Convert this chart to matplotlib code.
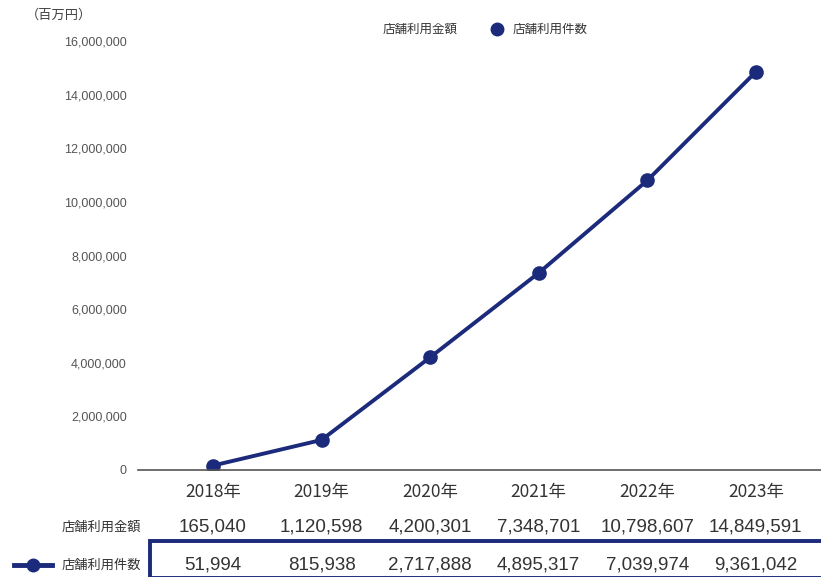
import matplotlib
matplotlib.use("Agg")
import matplotlib.pyplot as plt
from matplotlib.lines import Line2D
from matplotlib.patches import Rectangle
from matplotlib.transforms import blended_transform_factory

plt.rcParams["font.family"] = ["Noto Sans CJK JP", "DejaVu Sans"]

years = ["2018年", "2019年", "2020年", "2021年", "2022年", "2023年"]
amount = [165040, 1120598, 4200301, 7348701, 10798607, 14849591]  # 店舗利用金額（百万円）
count = [51994, 815938, 2717888, 4895317, 7039974, 9361042]  # 店舗利用件数
y_ticks = [0, 2000000, 4000000, 6000000, 8000000, 10000000, 12000000, 14000000, 16000000]

NAVY = "#1b2a7a"
W, H = 821, 577

fig = plt.figure(figsize=(W / 100, H / 100), dpi=100)
# axes box in pixel terms: left 138, right 821, bottom 470, top 41
ax = fig.add_axes([138 / W, 1 - 470 / H, (W - 138) / W, (470 - 41) / H])

x = list(range(len(years)))
ax.plot(x, amount, color=NAVY, lw=2.8, marker="o", ms=9.5,
        markerfacecolor=NAVY, markeredgecolor=NAVY, solid_capstyle="round")

ax.set_xlim(-0.69, 5.6)
ax.set_ylim(0, 16000000)
ax.set_yticks(y_ticks)
ax.set_yticklabels([f"{v:,}" for v in y_ticks], fontsize=9, color="#555555",
                   family=["Liberation Sans"])
ax.tick_params(axis="y", length=0, pad=8)
ax.set_xticks(x)
ax.set_xticklabels(years, fontsize=12.5, color="#333333")
ax.tick_params(axis="x", length=0, pad=9)
for s in ["top", "right", "left"]:
    ax.spines[s].set_visible(False)
ax.spines["bottom"].set_color("#555555")
ax.spines["bottom"].set_linewidth(1.2)

# 単位
fig.text(26 / W, 1 - 15 / H, "（百万円）", fontsize=9.5, color="#444444",
         ha="left", va="center")

# 凡例
fig.text(383 / W, 1 - 29 / H, "店舗利用金額", fontsize=9, color="#333333",
         ha="left", va="center")
fig.add_artist(Line2D([497 / W], [1 - 29 / H], marker="o", ms=9, color=NAVY,
                      transform=fig.transFigure))
fig.text(513 / W, 1 - 29 / H, "店舗利用件数", fontsize=9, color="#333333",
         ha="left", va="center")

# データテーブル
tr = blended_transform_factory(ax.transData, fig.transFigure)
row1_y = 1 - 527 / H
row2_y = 1 - 565 / H
fig.text(141 / W, row1_y, "店舗利用金額", fontsize=9.5, color="#333333",
         ha="right", va="center")
fig.text(141 / W, row2_y, "店舗利用件数", fontsize=9.5, color="#333333",
         ha="right", va="center")
for i in x:
    fig.text(i, row1_y, f"{amount[i]:,}", transform=tr, fontsize=13.5,
             color="#333333", ha="center", va="center", family=["Liberation Sans"])
    fig.text(i, row2_y, f"{count[i]:,}", transform=tr, fontsize=13.5,
             color="#333333", ha="center", va="center", family=["Liberation Sans"])

# 凡例キー（表の左）
fig.add_artist(Line2D([14 / W, 52 / W], [row2_y, row2_y], color=NAVY, lw=3.5,
                      transform=fig.transFigure))
fig.add_artist(Line2D([33 / W], [row2_y], marker="o", ms=9, color=NAVY,
                      transform=fig.transFigure))

# 件数の行を囲む枠
fig.add_artist(Rectangle((150 / W, 1 - 578 / H), (W - 150 + 5) / W, 37 / H,
                         fill=False, edgecolor=NAVY, lw=2.8,
                         transform=fig.transFigure))

fig.savefig("out.png", dpi=100)
